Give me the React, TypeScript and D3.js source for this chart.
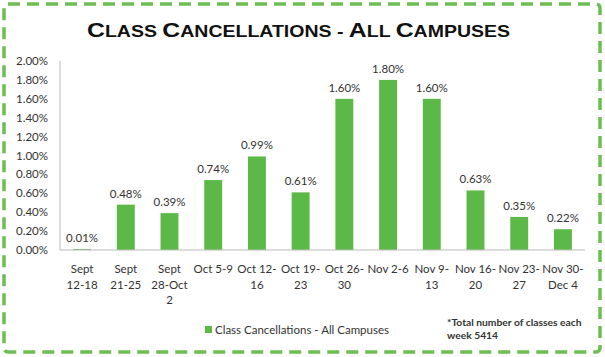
import React from "react";
import * as d3 from "d3";

const categories: string[][] = [
  ["Sept", "12-18"],
  ["Sept", "21-25"],
  ["Sept", "28-Oct", "2"],
  ["Oct 5-9"],
  ["Oct 12-", "16"],
  ["Oct 19-", "23"],
  ["Oct 26-", "30"],
  ["Nov 2-6"],
  ["Nov 9-", "13"],
  ["Nov 16-", "20"],
  ["Nov 23-", "27"],
  ["Nov 30-", "Dec 4"],
];
const values: number[] = [0.01, 0.48, 0.39, 0.74, 0.99, 0.61, 1.6, 1.8, 1.6, 0.63, 0.35, 0.22];
const yTicks: number[] = [0, 0.2, 0.4, 0.6, 0.8, 1.0, 1.2, 1.4, 1.6, 1.8, 2.0];
const title = "Class Cancellations - All Campuses";
const seriesName = "Class Cancellations - All Campuses";
const noteLines = ["*Total number of classes each", "week 5414"];

const W = 605;
const H = 357;
const BAR = "#5CB947";
const BORDER = "#6DBE52";
const FONT = "Lato, 'Open Sans', sans-serif";

export default function App() {
  const left = 60;
  const right = 585;
  const top = 61;
  const bottom = 250;
  const x = d3.scaleBand<number>().domain(d3.range(categories.length)).range([left, right]).paddingInner(0.59).paddingOuter(0.3);
  const y = d3.scaleLinear().domain([0, 2]).range([bottom, top]);
  const cx = (i: number) => (x(i) as number) + x.bandwidth() / 2;

  // manual small caps: uppercase letters big, lowercase letters as smaller capitals
  const titleParts: { t: string; big: boolean }[] = [];
  for (const ch of title) {
    const big = ch === ch.toUpperCase() && ch !== ch.toLowerCase();
    const last = titleParts[titleParts.length - 1];
    if (last && last.big === big) last.t += ch.toUpperCase();
    else titleParts.push({ t: ch.toUpperCase(), big });
  }

  return (
    <svg width={W} height={H} style={{ position: "absolute", left: 0, top: 0, background: "#fff" }}>
      <rect x={4} y={4} width={596} height={348} rx={4} fill="#fff" stroke={BORDER} strokeWidth={3.5} strokeDasharray="12 7" />
      <text x={298.5} y={37} textAnchor="middle" fontFamily="'Liberation Sans', Arial, sans-serif" fontWeight="bold" fill="#111" textLength={423} lengthAdjust="spacingAndGlyphs">
        {titleParts.map((p, i) => (
          <tspan key={i} fontSize={p.big ? 21 : 16.5}>
            {p.t}
          </tspan>
        ))}
      </text>
      {yTicks.map((t) => (
        <text key={t} x={48} y={y(t) + 4} textAnchor="end" fontFamily={FONT} fontSize={11.5} fill="#333">
          {t.toFixed(2) + "%"}
        </text>
      ))}
      <line x1={left} x2={left} y1={top} y2={bottom} stroke="#bbb" strokeWidth={1} />
      {values.map((v, i) => (
        <rect key={i} x={x(i)} y={y(v)} width={x.bandwidth()} height={bottom - y(v)} fill={BAR} />
      ))}
      <line x1={left} x2={right} y1={bottom} y2={bottom} stroke="#bbb" strokeWidth={1.2} />
      {values.map((v, i) => (
        <text key={"l" + i} x={cx(i)} y={y(v) - 7} textAnchor="middle" fontFamily={FONT} fontSize={11.5} fill="#333">
          {v.toFixed(2) + "%"}
        </text>
      ))}
      {categories.map((lines, i) => (
        <text key={"c" + i} x={cx(i)} y={273} textAnchor="middle" fontFamily={FONT} fontSize={11.5} fill="#333">
          {lines.map((ln, j) => (
            <tspan key={j} x={cx(i)} dy={j === 0 ? 0 : 15.5}>
              {ln}
            </tspan>
          ))}
        </text>
      ))}
      <rect x={205} y={326} width={7} height={7} fill={BAR} />
      <text x={215} y={334} fontFamily={FONT} fontSize={11.5} fill="#333">
        {seriesName}
      </text>
      {noteLines.map((ln, j) => (
        <text key={"n" + j} x={447} y={326 + j * 13} fontFamily={FONT} fontWeight="bold" fontSize={10.3} fill="#333">
          {ln}
        </text>
      ))}
    </svg>
  );
}
